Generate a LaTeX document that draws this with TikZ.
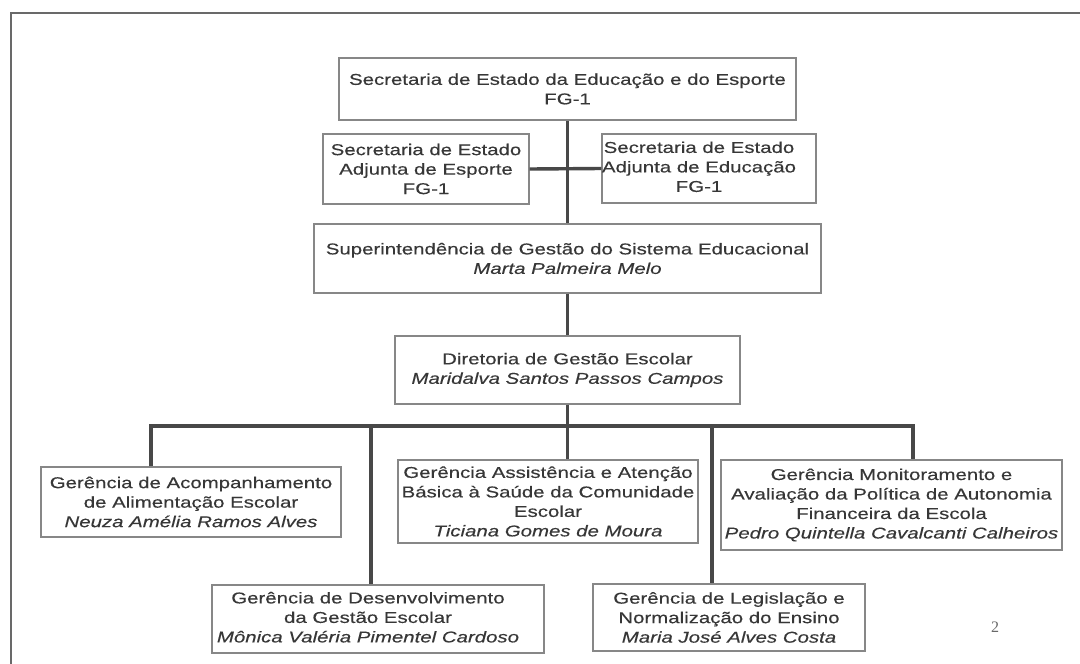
\documentclass[tikz,border=0pt]{standalone}
\usepackage{fontspec}
\setmainfont{Liberation Sans}[FakeStretch=1.3,FakeBold=0.25]
\newfontfamily\pagenumfont{Liberation Serif}
\definecolor{txtgray}{RGB}{55,55,55}
\definecolor{boxgray}{RGB}{135,135,135}
\definecolor{linegray}{RGB}{72,72,72}
\definecolor{framegray}{RGB}{105,105,105}
\newcommand\orgfont{\fontsize{15.7pt}{19.5pt}\selectfont}
\tikzset{
  orgbox/.style={draw=boxgray, line width=1.1pt, inner sep=0pt, align=center,
    text=txtgray, font=\orgfont, fill=white},
  conn/.style={draw=linegray, line width=3.4pt, line join=miter},
  frameline/.style={draw=framegray, line width=2.6pt},
  pagenum/.style={text=txtgray!75, font=\pagenumfont\fontsize{16pt}{18pt}\selectfont, inner sep=0pt}
}
\begin{document}
\begin{tikzpicture}[x=1pt,y=-1pt]
\useasboundingbox (0,0) rectangle (1080,664);
\fill[white] (0,0) rectangle (1080,664);

% page frame
\coordinate (fbl) at (11,664);
\coordinate (ftl) at (11,13);
\coordinate (ftr) at (1080,13);
\draw[frameline] (fbl) -- (ftl) -- (ftr);

% boxes
\node[orgbox, minimum width=457, minimum height=62] (top) at (567.5,89)
  {Secretaria de Estado da Educação e do Esporte\\FG-1};
\node[orgbox, minimum width=206, minimum height=70] (adjL) at (426,169)
  {Secretaria de Estado\\Adjunta de Esporte\\FG-1};
\node[orgbox, minimum width=214, minimum height=69] (adjR) at (709,168.5)
  {\begin{tabular}{@{}c@{\hspace{20pt}}}Secretaria de Estado\\Adjunta de Educação\\FG-1\end{tabular}};
\node[orgbox, minimum width=507, minimum height=69] (sup) at (567.5,258.5)
  {Superintendência de Gestão do Sistema Educacional\\\textit{Marta Palmeira Melo}};
\node[orgbox, minimum width=345, minimum height=68] (dir) at (567.5,370)
  {Diretoria de Gestão Escolar\\\textit{Maridalva Santos Passos Campos}};

\node[orgbox, minimum width=300, minimum height=70] (g1) at (191,502)
  {Gerência de Acompanhamento\\de Alimentação Escolar\\\textit{Neuza Amélia Ramos Alves}};
\node[orgbox, minimum width=332, minimum height=68] (g2) at (378,619)
  {\begin{tabular}{@{}c@{\hspace{20pt}}}Gerência de Desenvolvimento\\da Gestão Escolar\\\textit{Mônica Valéria Pimentel Cardoso}\end{tabular}};
\node[orgbox, minimum width=300, minimum height=83] (g3) at (548,501.5)
  {Gerência Assistência e Atenção\\Básica à Saúde da Comunidade\\Escolar\\\textit{Ticiana Gomes de Moura}};
\node[orgbox, minimum width=272, minimum height=67] (g4) at (729,617.5)
  {Gerência de Legislação e\\Normalização do Ensino\\\textit{Maria José Alves Costa}};
\node[orgbox, minimum width=341, minimum height=90] (g5) at (891.5,505)
  {Gerência Monitoramento e\\Avaliação da Política de Autonomia\\Financeira da Escola\\\textit{Pedro Quintella Cavalcanti Calheiros}};

\node[pagenum] (pg) at (995,627) {2};

% connectors
\draw[conn] (top.south) -- (sup.north);
\draw[conn] (adjL.east) -- (adjR.west);
\draw[conn] (sup.south) -- (dir.north);

\coordinate (b1) at (151,426);
\coordinate (b2) at (371,426);
\coordinate (b3) at (567.5,426);
\coordinate (b4) at (712,426);
\coordinate (b5) at (913,426);

\draw[conn] (dir.south) -- (b3);
\draw[conn] (b1 |- g1.north) -- (b1) -- (b5) -- (b5 |- g5.north);
\draw[conn] (b2) -- (b2 |- g2.north);
\draw[conn] (b3) -- (b3 |- g3.north);
\draw[conn] (b4) -- (b4 |- g4.north);
\end{tikzpicture}
\end{document}
